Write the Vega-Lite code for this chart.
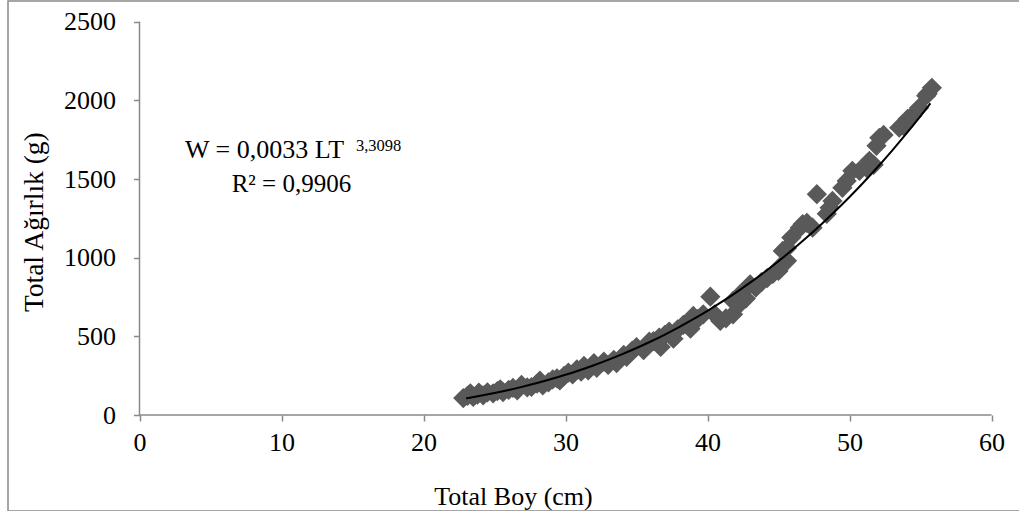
{
  "$schema": "https://vega.github.io/schema/vega-lite/v6.json",
  "width": 1013,
  "height": 510,
  "autosize": {"type": "none"},
  "padding": {"left": 8, "top": 1, "right": 0, "bottom": 0},
  "background": "white",
  "config": {
    "view": {"stroke": "#898989", "strokeWidth": 1.5},
    "font": "Liberation Serif",
    "axis": {
      "domain": false,
      "grid": false,
      "tickColor": "#898989",
      "tickWidth": 1.5,
      "tickSize": 6,
      "labelFont": "Liberation Serif",
      "labelFontSize": 26,
      "labelColor": "#000000",
      "labelFlush": false,
      "labelOverlap": false,
      "titleFont": "Liberation Serif",
      "titleFontSize": 26,
      "titleFontWeight": "normal",
      "titleColor": "#000000"
    }
  },
  "datasets": {
    "fish": [
      {"L": 22.8, "W": 108}, {"L": 23.1, "W": 122}, {"L": 23.3, "W": 138}, {"L": 23.5, "W": 115},
      {"L": 23.8, "W": 130}, {"L": 23.9, "W": 142}, {"L": 24.2, "W": 125}, {"L": 24.5, "W": 144},
      {"L": 24.9, "W": 138}, {"L": 25.2, "W": 152}, {"L": 25.4, "W": 163}, {"L": 25.6, "W": 146},
      {"L": 26.0, "W": 160}, {"L": 26.3, "W": 172}, {"L": 26.6, "W": 157}, {"L": 26.9, "W": 191},
      {"L": 27.3, "W": 176}, {"L": 27.6, "W": 178}, {"L": 28.0, "W": 200}, {"L": 28.2, "W": 218},
      {"L": 28.4, "W": 189}, {"L": 28.8, "W": 208}, {"L": 29.1, "W": 226}, {"L": 29.4, "W": 233},
      {"L": 29.6, "W": 220}, {"L": 29.9, "W": 248}, {"L": 30.2, "W": 269}, {"L": 30.5, "W": 258},
      {"L": 30.8, "W": 290}, {"L": 31.1, "W": 275}, {"L": 31.3, "W": 312}, {"L": 31.6, "W": 283},
      {"L": 32.0, "W": 329}, {"L": 32.2, "W": 300}, {"L": 32.7, "W": 339}, {"L": 33.0, "W": 318},
      {"L": 33.4, "W": 350}, {"L": 33.6, "W": 330}, {"L": 34.1, "W": 382}, {"L": 34.3, "W": 369},
      {"L": 34.7, "W": 410}, {"L": 35.0, "W": 431}, {"L": 35.5, "W": 412}, {"L": 35.9, "W": 466},
      {"L": 36.2, "W": 470}, {"L": 36.6, "W": 492}, {"L": 36.7, "W": 433}, {"L": 37.0, "W": 510},
      {"L": 37.3, "W": 530}, {"L": 37.6, "W": 485}, {"L": 37.9, "W": 545}, {"L": 38.3, "W": 573},
      {"L": 38.8, "W": 549}, {"L": 39.0, "W": 630}, {"L": 39.3, "W": 610}, {"L": 39.7, "W": 640},
      {"L": 40.2, "W": 752}, {"L": 40.5, "W": 640}, {"L": 40.9, "W": 598}, {"L": 41.3, "W": 615},
      {"L": 41.8, "W": 640}, {"L": 41.8, "W": 725}, {"L": 42.2, "W": 700}, {"L": 42.3, "W": 768},
      {"L": 42.7, "W": 740}, {"L": 43.0, "W": 831}, {"L": 43.4, "W": 810}, {"L": 43.8, "W": 845},
      {"L": 44.2, "W": 870}, {"L": 44.6, "W": 897}, {"L": 45.0, "W": 916}, {"L": 45.3, "W": 960},
      {"L": 45.6, "W": 980}, {"L": 45.3, "W": 1043}, {"L": 45.6, "W": 1062}, {"L": 45.9, "W": 1128},
      {"L": 46.5, "W": 1190}, {"L": 46.7, "W": 1213}, {"L": 47.0, "W": 1222}, {"L": 47.4, "W": 1191},
      {"L": 47.7, "W": 1404}, {"L": 48.4, "W": 1279}, {"L": 48.6, "W": 1317}, {"L": 48.8, "W": 1361},
      {"L": 49.5, "W": 1444}, {"L": 49.8, "W": 1488}, {"L": 50.2, "W": 1552}, {"L": 50.7, "W": 1552},
      {"L": 51.2, "W": 1571}, {"L": 51.4, "W": 1616}, {"L": 51.7, "W": 1590}, {"L": 51.9, "W": 1711},
      {"L": 52.1, "W": 1762}, {"L": 52.4, "W": 1780}, {"L": 53.5, "W": 1826}, {"L": 53.8, "W": 1838},
      {"L": 54.1, "W": 1883}, {"L": 54.4, "W": 1900}, {"L": 54.9, "W": 1953}, {"L": 55.4, "W": 2030},
      {"L": 55.5, "W": 2042}, {"L": 55.8, "W": 2080}
    ],
    "fit": [
      {"L": 23, "W": 106.06}, {"L": 24, "W": 122.12}, {"L": 25, "W": 139.77}, {"L": 26, "W": 159.14},
      {"L": 27, "W": 180.32}, {"L": 28, "W": 203.39}, {"L": 29, "W": 228.43}, {"L": 30, "W": 255.56},
      {"L": 31, "W": 284.84}, {"L": 32, "W": 316.40}, {"L": 33, "W": 350.33}, {"L": 34, "W": 386.72},
      {"L": 35, "W": 425.66}, {"L": 36, "W": 467.25}, {"L": 37, "W": 511.61}, {"L": 38, "W": 558.83},
      {"L": 39, "W": 609.00}, {"L": 40, "W": 662.23}, {"L": 41, "W": 718.62}, {"L": 42, "W": 778.28},
      {"L": 43, "W": 841.30}, {"L": 44, "W": 907.82}, {"L": 45, "W": 977.91}, {"L": 46, "W": 1051.71},
      {"L": 47, "W": 1129.30}, {"L": 48, "W": 1210.79}, {"L": 49, "W": 1296.30}, {"L": 50, "W": 1385.95},
      {"L": 51, "W": 1479.83}, {"L": 52, "W": 1578.06}, {"L": 53, "W": 1680.75}, {"L": 54, "W": 1788.10},
      {"L": 55, "W": 1900.02}, {"L": 55.7, "W": 1981.24}
    ]
  },
  "layer": [
    {
      "data": {"values": [{}]},
      "mark": {"type": "rule", "color": "#898989", "strokeWidth": 1.5},
      "encoding": {
        "x": {"datum": 0, "type": "quantitative", "scale": {"domain": [-9.2606, 62.077], "nice": false, "zero": false}},
        "x2": {"datum": 60},
        "y": {"datum": 0, "type": "quantitative", "scale": {"domain": [-610.2, 2631.6], "nice": false, "zero": false}}
      }
    },
    {
      "data": {"values": [{}]},
      "mark": {"type": "rule", "color": "#898989", "strokeWidth": 1.5},
      "encoding": {
        "x": {"datum": 0, "type": "quantitative", "scale": {"domain": [-9.2606, 62.077], "nice": false, "zero": false}},
        "y": {"datum": 0, "type": "quantitative", "scale": {"domain": [-610.2, 2631.6], "nice": false, "zero": false}},
        "y2": {"datum": 2500}
      }
    },
    {
      "data": {"name": "fish"},
      "mark": {"type": "point", "shape": "diamond", "filled": true, "size": 410, "color": "#595959", "opacity": 1},
      "encoding": {
        "x": {
          "field": "L", "type": "quantitative",
          "scale": {"domain": [-9.2606, 62.077], "nice": false, "zero": false},
          "axis": {
            "orient": "bottom", "offset": -96,
            "values": [0, 10, 20, 30, 40, 50, 60],
            "format": "d",
            "labelPadding": 8,
            "title": "Total Boy (cm)",
            "titleX": 505, "titleY": 89,
            "titleAlign": "center", "titleBaseline": "alphabetic"
          }
        },
        "y": {
          "field": "W", "type": "quantitative",
          "scale": {"domain": [-610.2, 2631.6], "nice": false, "zero": false},
          "axis": {
            "orient": "left", "offset": -131.5,
            "values": [0, 500, 1000, 1500, 2000, 2500],
            "format": "d",
            "labelPadding": 18,
            "title": "Total Ağırlık (g)",
            "titleFontSize": 27.5,
            "titleX": -97.5, "titleY": 220.7,
            "titleAlign": "center", "titleBaseline": "alphabetic", "titleAngle": 270
          }
        }
      }
    },
    {
      "data": {"name": "fit"},
      "mark": {"type": "line", "color": "#000000", "strokeWidth": 2, "interpolate": "monotone"},
      "encoding": {
        "x": {"field": "L", "type": "quantitative", "scale": {"domain": [-9.2606, 62.077], "nice": false, "zero": false}},
        "y": {"field": "W", "type": "quantitative", "scale": {"domain": [-610.2, 2631.6], "nice": false, "zero": false}}
      }
    },
    {
      "data": {"values": [{"label": "W = 0,0033 LT"}]},
      "mark": {"type": "text", "font": "Liberation Serif", "fontSize": 26, "align": "left", "baseline": "alphabetic", "color": "#000000"},
      "encoding": {
        "x": {"datum": 3.204, "type": "quantitative", "scale": {"domain": [-9.2606, 62.077], "nice": false, "zero": false}},
        "y": {"datum": 1633.6, "type": "quantitative", "scale": {"domain": [-610.2, 2631.6], "nice": false, "zero": false}},
        "text": {"field": "label"}
      }
    },
    {
      "data": {"values": [{"label": "3,3098"}]},
      "mark": {"type": "text", "font": "Liberation Serif", "fontSize": 16.5, "align": "left", "baseline": "alphabetic", "color": "#000000"},
      "encoding": {
        "x": {"datum": 15.246, "type": "quantitative", "scale": {"domain": [-9.2606, 62.077], "nice": false, "zero": false}},
        "y": {"datum": 1680, "type": "quantitative", "scale": {"domain": [-610.2, 2631.6], "nice": false, "zero": false}},
        "text": {"field": "label"}
      }
    },
    {
      "data": {"values": [{"label": "R² = 0,9906"}]},
      "mark": {"type": "text", "font": "Liberation Serif", "fontSize": 25, "align": "center", "baseline": "alphabetic", "color": "#000000"},
      "encoding": {
        "x": {"datum": 10.70, "type": "quantitative", "scale": {"domain": [-9.2606, 62.077], "nice": false, "zero": false}},
        "y": {"datum": 1417.5, "type": "quantitative", "scale": {"domain": [-610.2, 2631.6], "nice": false, "zero": false}},
        "text": {"field": "label"}
      }
    }
  ]
}
